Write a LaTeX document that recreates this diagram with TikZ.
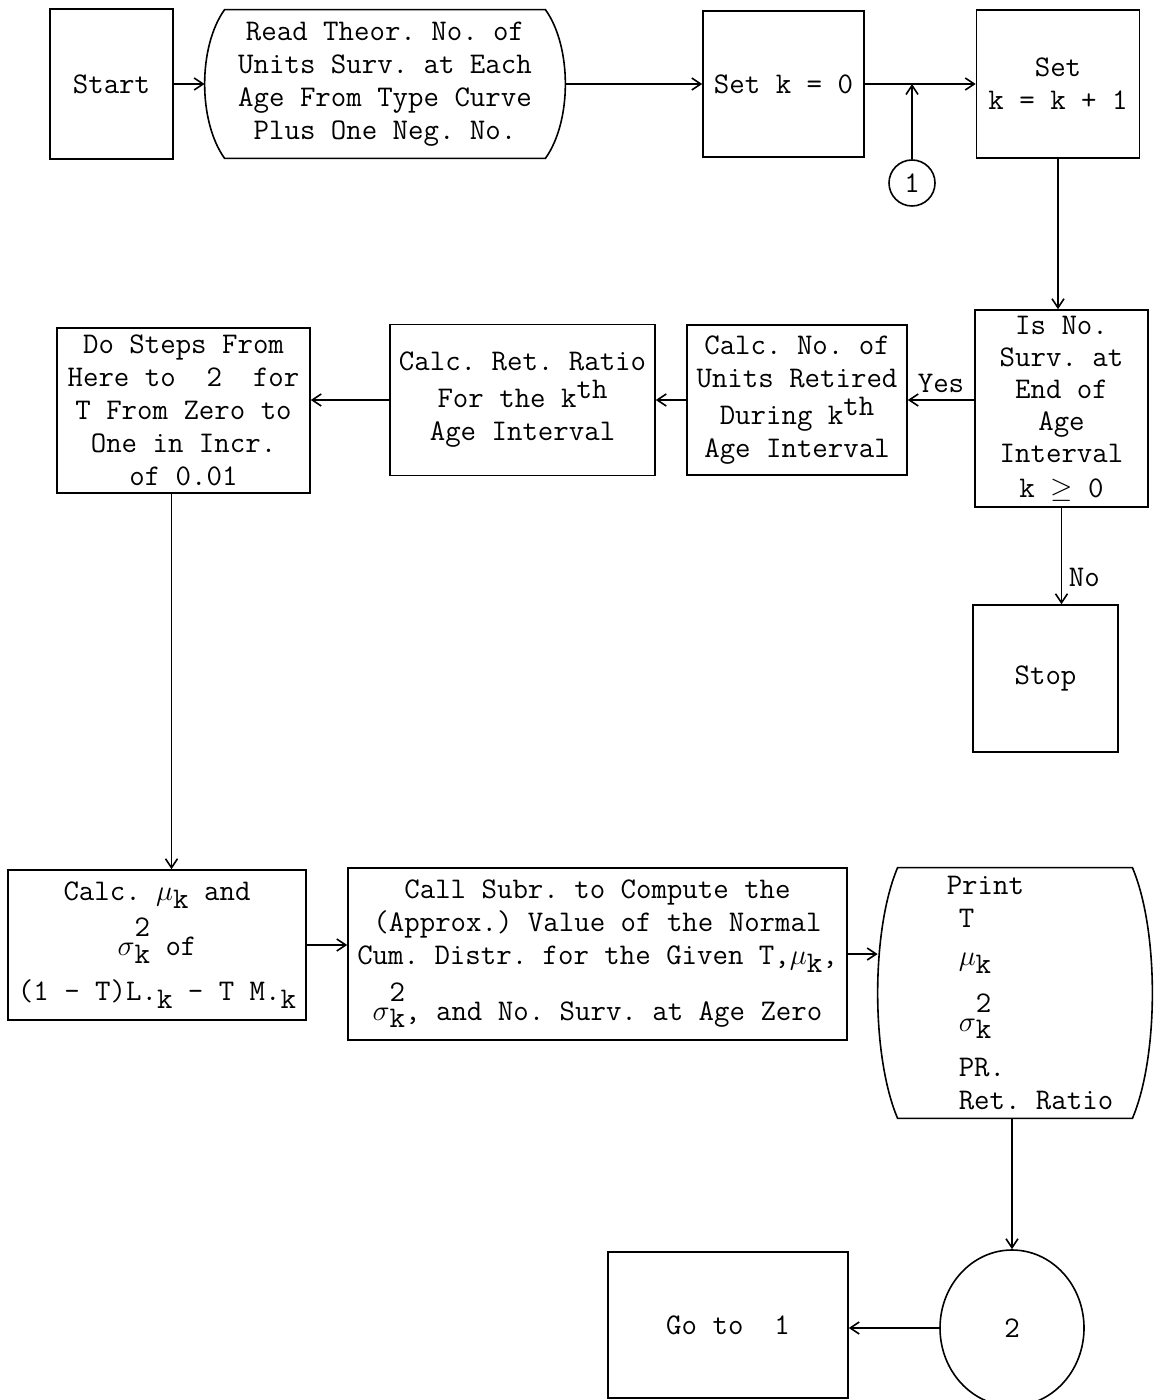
\documentclass[tikz,border=0pt]{standalone}
\usepackage{fontspec}
\usepackage{amsmath}
\usetikzlibrary{arrows,arrows.meta,shapes,calc}
\tikzstyle{box}=[draw,rectangle,line width=0.8pt,align=center,inner sep=0pt]
\tikzstyle{card}=[rectangle,align=center,inner sep=0pt]
\tikzstyle{edge} = [draw,line width=0.8pt,-{Straight Barb[length=4.5pt,width=6pt]}]
\newcommand{\lowk}{\raisebox{-0.6ex}{k}}
\newcommand{\kth}{k\raisebox{0.7ex}{th}}
\newcommand{\muk}{$\mu$\lowk}
\newcommand{\sigk}{$\sigma$\raisebox{-0.6ex}{\shortstack{2\\[1.2pt]k}}}
\frenchspacing

\begin{document}
\begin{tikzpicture}[x=0.5pt,y=-0.5pt,font=\ttfamily\fontsize{15}{16.5}\selectfont]
    \useasboundingbox (0,0) rectangle (1154,1400);
    % First row of the chart
    \node[box,minimum width=61.5pt,minimum height=75pt] (start) at (111.5,84) {Start};
    \node[card,minimum width=180pt,minimum height=74pt] (read) at (385,84)
        {Read Theor. No. of\\Units Surv. at Each\\Age From Type Curve\\Plus One Neg. No.};
    \node[box,minimum width=80.5pt,minimum height=73pt] (set0) at (783.5,84) {Set k = 0};
    \node[box,minimum width=81.5pt,minimum height=74pt] (setk) at (1058,84) {Set\\k = k + 1};
    \node[circle,draw,line width=0.8pt,minimum size=23pt,inner sep=0pt] (c1) at (912,183) {1};
    % Second row, right to left
    \node[box,minimum width=86.5pt,minimum height=98.5pt,font=\ttfamily\fontsize{15}{16}\selectfont] (is) at (1061.5,408.5)
        {Is No.\\Surv. at\\End of\\Age\\Interval\\[1.5pt]k $\geq$ 0};
    \node[box,minimum width=110pt,minimum height=75pt] (calcno) at (797,400)
        {Calc. No. of\\Units Retired\\[2pt]During \kth\\Age Interval};
    \node[box,minimum width=132.5pt,minimum height=75.5pt] (calcret) at (522.5,400)
        {Calc. Ret. Ratio\\[2pt]For the \kth\\Age Interval};
    \node[box,minimum width=126.5pt,minimum height=82.5pt] (dosteps) at (183.5,410.5)
        {Do Steps From\\Here to\ \ 2\ \ for\\T From Zero to\\One in Incr.\\of 0.01};
    \node[box,minimum width=72.5pt,minimum height=73.5pt] (stop) at (1045.5,678.5) {Stop};
    % Third row
    \node[box,minimum width=149pt,minimum height=75pt] (calcmu) at (157,945)
        {Calc. \muk{} and\\[4pt]\sigk{} of\\[6pt](1 - T)L.\lowk{} - T M.\lowk};
    \node[box,minimum width=249.5pt,minimum height=86pt] (callsub) at (597.5,954)
        {Call Subr. to Compute the\\(Approx.) Value of the Normal\\Cum. Distr. for the Given T,\muk,\\[4pt]\sigk, and No. Surv. at Age Zero};
    \node[card,minimum width=137pt,minimum height=125pt,align=left] (print) at (1015,993)
        {\hspace*{15pt}Print\\\hspace*{21pt}T\\[2.5pt]\hspace*{21pt}\muk\\[9pt]\hspace*{21pt}\sigk\\[6pt]\hspace*{21pt}PR.\\\hspace*{21pt}Ret. Ratio};
    \node[ellipse,draw,line width=0.8pt,minimum width=72pt,minimum height=78pt,inner sep=0pt] (c2) at (1012,1328) {2};
    \node[box,minimum width=120pt,minimum height=73pt] (goto) at (728,1325) {Go to\ \ 1};
    % Curved sides of the input and output boxes
    \foreach \name in {read,print}
        \draw[line width=0.8pt] ([xshift=10pt]\name.north west) -- ([xshift=-10pt]\name.north east)
            .. controls ([xshift=3.3pt]$(\name.north east)!0.25!(\name.south east)$)
            and ([xshift=3.3pt]$(\name.north east)!0.75!(\name.south east)$) .. ([xshift=-10pt]\name.south east)
            -- ([xshift=10pt]\name.south west)
            .. controls ([xshift=-3.3pt]$(\name.south west)!0.25!(\name.north west)$)
            and ([xshift=-3.3pt]$(\name.south west)!0.75!(\name.north west)$) .. cycle;
    % Connect the boxes with arrows
    \foreach \source/\dest in {start/read, read/set0, set0/setk, calcno/calcret}
        \path[edge] (\source) -- (\dest);
    \path[edge] (c1) -- (c1 |- set0.east);
    \path[edge] (setk.south) -- (setk.south |- is.north);
    \path[edge] (is.west |- calcno.east) -- node[above] {Yes} (calcno.east);
    \path[edge] (calcret.west) -- (calcret.west -| dosteps.east);
    \path[edge] (is.south) -- node[right,pos=0.72] {No} (is.south |- stop.north);
    \path[edge] ([xshift=-6pt]dosteps.south) -- ([xshift=-6pt]dosteps.south |- calcmu.north);
    \path[edge] (calcmu.east) -- (calcmu.east -| callsub.west);
    \path[edge] (callsub.east) -- (callsub.east -| print.west);
    \path[edge] (c2.north |- print.south) -- (c2.north);
    \path[edge] (c2.west) -- (c2.west -| goto.east);
\end{tikzpicture}
\end{document}
